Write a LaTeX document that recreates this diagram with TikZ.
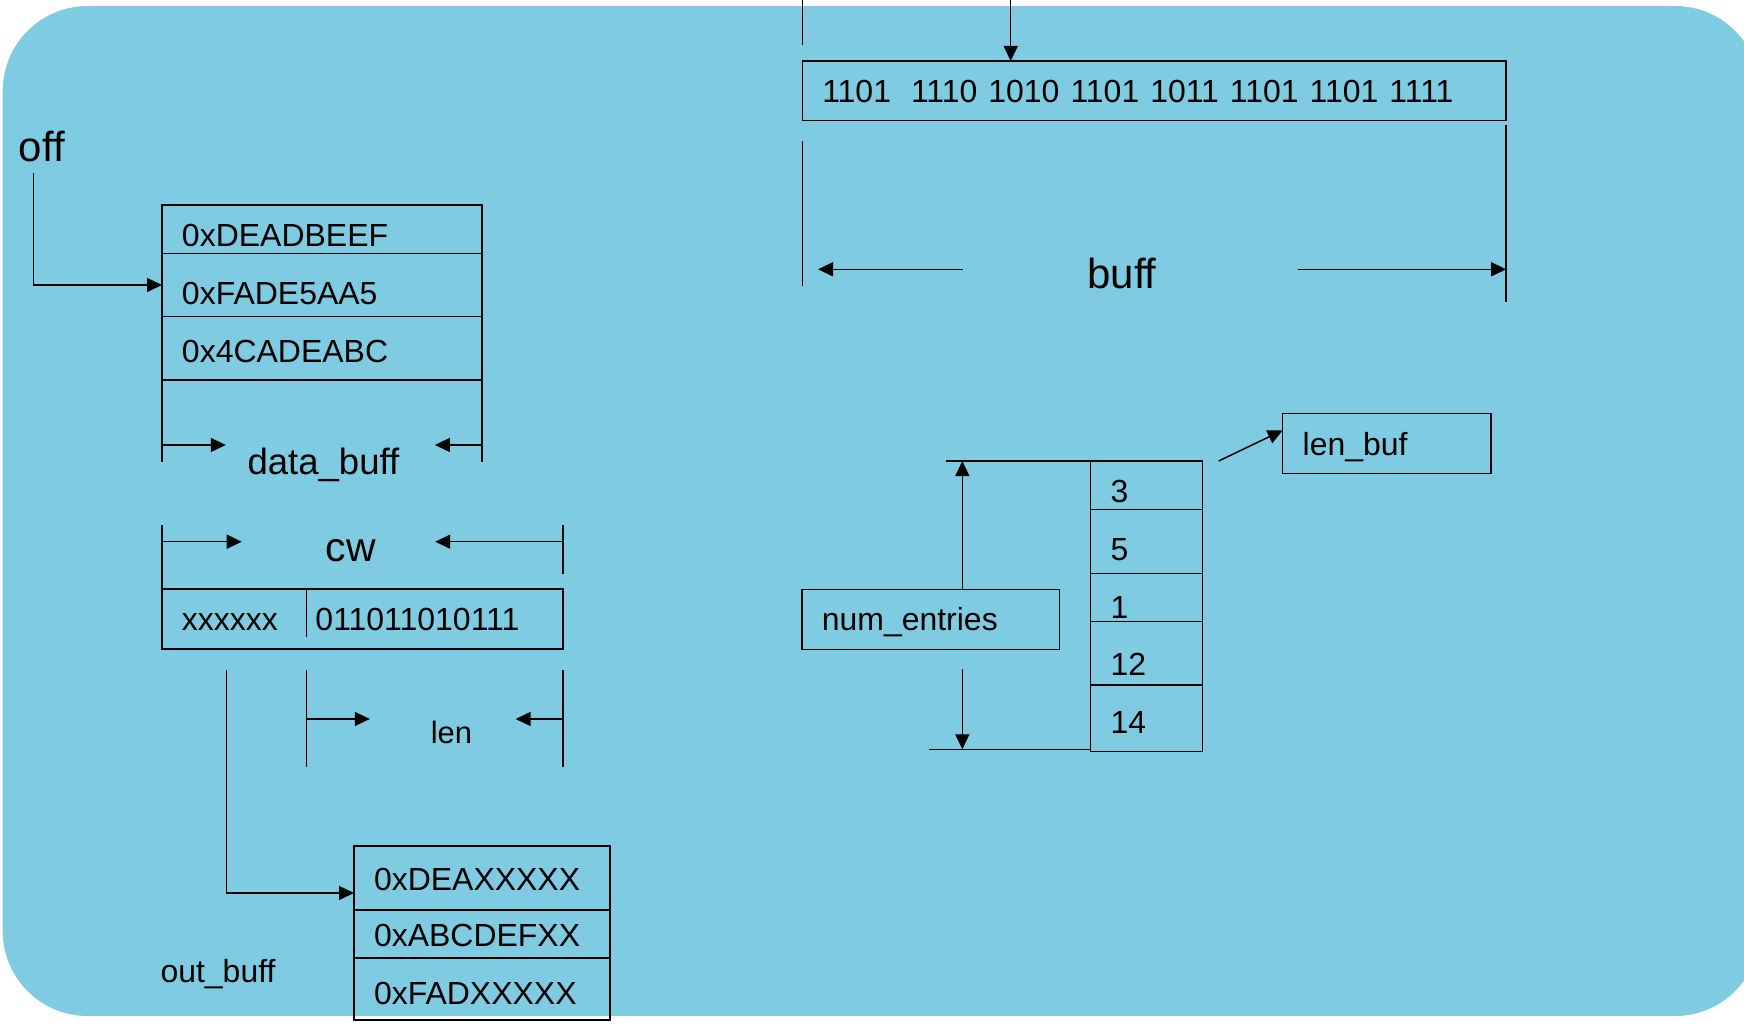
\documentclass[tikz,border=0pt]{standalone}
\usepackage{fontspec}
\setmainfont{Liberation Sans}
\usepackage{xcolor}
\usepackage{tikz}
\usetikzlibrary{
arrows.meta,
positioning
}
\definecolor{panelblue}{RGB}{127,204,226}

\begin{document}
\begin{tikzpicture}[
x=0.02cm, y=-0.02cm,
line width=0.85pt,
cell/.style={
draw,
anchor=north west,
align=left,
inner xsep=0.4cm,
inner ysep=0pt,
outer sep=0pt,
text depth=0pt,
font=\fontsize{18.2pt}{20pt}\selectfont
},
hexcell/.style={cell,text width=5.6cm},
outcell/.style={cell,text width=4.32cm},
numcell/.style={cell,text width=1.44cm},
dimtext/.style={inner sep=0pt,anchor=base},
arrow/.style={-{Triangle[length=0.3cm,width=0.28cm]}}
]

\useasboundingbox (0,0) rectangle (1744,1027);
\fill[panelblue,rounded corners=1.7cm] (2.7,6) rectangle (1760,1016);

\node[dimtext,anchor=base west,font=\fontsize{23.9pt}{26pt}\selectfont] (off) at (18,162) {off};
\node[hexcell,minimum height=0.966cm,text height=0.71cm] (r1) at (162,205) {0xDEADBEEF};
\node[hexcell,minimum height=1.268cm,text height=0.77cm,below=0pt of r1] (r2) {0xFADE5AA5};
\node[hexcell,minimum height=1.266cm,text height=0.58cm,below=0pt of r2] (r3) {0x4CADEABC};
\node[dimtext,font=\fontsize{20.8pt}{23pt}\selectfont] (dblabel) at (323.4,474.3) {data\_buff};

\node[cell,draw=none,text width=2.09cm,minimum height=1.2cm,text height=0.48cm] (cwhi) at (162,589) {xxxxxx};
\node[cell,draw=none,inner xsep=0.18cm,text width=4.77cm,minimum height=1.2cm,text height=0.48cm,right=0pt of cwhi] (cwlo) {011011010111};
\node[dimtext,font=\fontsize{23.3pt}{26pt}\selectfont] (cwlabel) at (350.9,561) {cw};
\node[dimtext,font=\fontsize{17.6pt}{20pt}\selectfont] (lenlabel) at (451.4,743.7) {len};

\node[outcell,minimum height=1.28cm,text height=0.49cm] (o1) at (354,846) {0xDEAXXXXX};
\node[outcell,minimum height=0.96cm,text height=0.52cm,below=0pt of o1] (o2) {0xABCDEFXX};
\node[outcell,minimum height=1.24cm,text height=0.64cm,below=0pt of o2] (o3) {0xFADXXXXX};
\node[dimtext,font=\fontsize{18.2pt}{20pt}\selectfont] (outlabel) at (218,982) {out\_buff};

\node[cell,text width=13.28cm,minimum height=1.194cm,text height=0.47cm,font=\fontsize{18.2pt}{20pt}\selectfont] (bits) at (802.3,61)
{\spaceskip=0.344em 1101\hspace{0.625em}1110 1010 1101 1011 1101 1101 1111};
\node[dimtext,font=\fontsize{23.9pt}{26pt}\selectfont] (bufflabel) at (1122,288) {buff};

\node[numcell,minimum height=0.966cm,text height=0.68cm] (e1) at (1090.7,461) {3};
\node[numcell,minimum height=1.28cm,text height=0.75cm,below=0pt of e1] (e2) {5};
\node[numcell,minimum height=0.96cm,text height=0.84cm,below=0pt of e2] (e3) {1};
\node[numcell,minimum height=1.274cm,text height=0.91cm,below=0pt of e3] (e4) {12};
\node[numcell,minimum height=1.334cm,text height=0.6cm,below=0pt of e4] (e5) {14};
\node[cell,text width=3.37cm,minimum height=1.2cm,text height=0.47cm] (lenbuf) at (1282.7,413.3) {len\_buf};
\node[cell,text width=4.35cm,minimum height=1.2cm,text height=0.43cm] (num) at (801.8,589.3) {num\_entries};

\coordinate (offtail) at (33.7,172.7);
\coordinate (outtail) at (226.5,670);
\coordinate (topin) at (1010.7,0);

\draw[arrow] (offtail) |- (r2.west);
\draw (r3.south west) -- ++(0,81.7);
\draw (r3.south east) -- ++(0,81.7);
\draw[arrow] (r3.south west) ++(0,65) -- ++(63.8,0);
\draw[arrow] (r3.south east) ++(0,65) -- ++(-47,0);

\draw (cwhi.north west) rectangle (cwlo.south east);
\draw (cwlo.north west) -- ++(0,48);
\draw (cwhi.north west) -- ++(0,-64);
\draw (cwlo.north east) ++(0,-15) -- ++(0,-49);
\draw[arrow] (cwhi.north west) ++(0,-47.3) -- ++(79.7,0);
\draw[arrow] (cwlo.north east) ++(0,-47.3) -- ++(-127.7,0);
\draw (cwlo.south west) ++(0,21) -- ++(0,97.5);
\draw (cwlo.south east) ++(0,21) -- ++(0,97.5);
\draw[arrow] (cwlo.south west) ++(0,70) -- ++(63.4,0);
\draw[arrow] (cwlo.south east) ++(0,70) -- ++(-47.4,0);

\draw[arrow] (outtail) |- ([yshift=-0.3cm]o1.west);

\draw (bits.north west) ++(0,-16) -- ++(0,-45);
\draw[arrow] (topin) -- (topin |- bits.north);
\draw (bits.south west) ++(0,20.3) -- ++(0,144.7);
\draw (bits.south east) ++(0,4.3) -- ++(0,176.7);
\draw[arrow] (bits.south west) ++(160.2,148.6) -- ++(-144.5,0);
\draw[arrow] (bits.south east) ++(-208.5,148.6) -- ++(208.5,0);

\draw[arrow] ([xshift=0.32cm]e1.north east) -- ([yshift=0.26cm]lenbuf.west);
\draw (e1.north west) -- ++(-145,0);
\draw (e5.south west) ++(0,-2.4) coordinate (nbot) -- ++(-161.4,0);
\draw[arrow] ([xshift=0.636cm]num.north) -- ([xshift=0.636cm]num.north |- e1.north);
\draw[arrow] ([xshift=0.636cm,yshift=-0.39cm]num.south) -- ([xshift=0.636cm]num.south |- nbot);

\end{tikzpicture}
\end{document}
